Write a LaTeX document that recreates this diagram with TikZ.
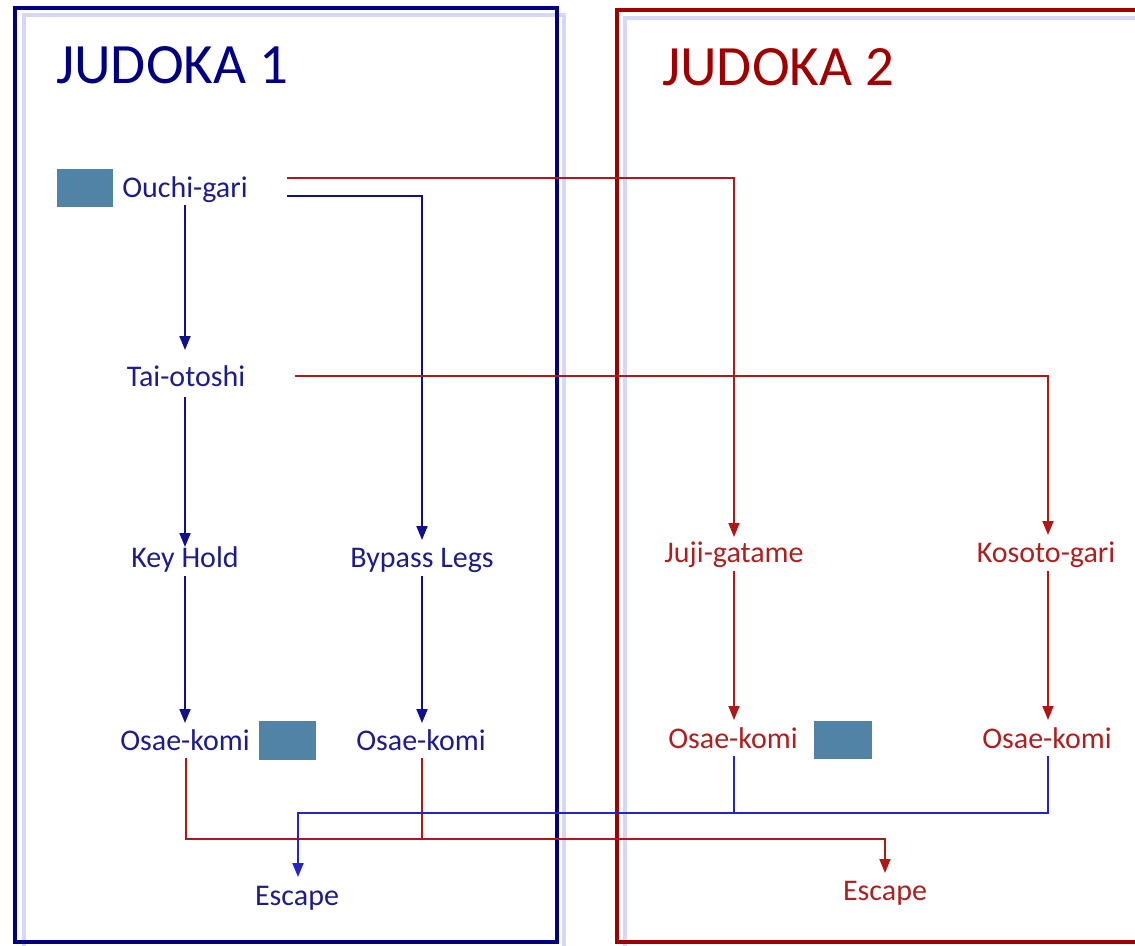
\documentclass[tikz,border=0pt]{standalone}
\usepackage{fontspec}
\setmainfont{Carlito}
\usetikzlibrary{arrows.meta,calc}
\definecolor{navyT}{HTML}{1C1C8C}
\definecolor{navyL}{HTML}{10108A}
\definecolor{navyB}{HTML}{000080}
\definecolor{brightB}{HTML}{2424C8}
\definecolor{redT}{HTML}{AE1F1F}
\definecolor{redL}{HTML}{B01818}
\definecolor{redB}{HTML}{A00000}
\definecolor{lav}{HTML}{D6D6F6}
\definecolor{sqc}{HTML}{5183A6}
\tikzset{
  lbl/.style={anchor=base,inner sep=0pt,font=\fontsize{30}{36}\selectfont},
  bl/.style={lbl,text=navyT},
  rl/.style={lbl,text=redT},
  title/.style={anchor=base west,inner sep=0pt,font=\fontsize{57}{62}\selectfont},
  sqbox/.style={fill=sqc,draw=none,inner sep=0pt},
  arr/.style={-{Triangle[length=14pt,width=11pt]}},
  bcon/.style={draw=navyL,line width=2pt},
  rcon/.style={draw=redL,line width=1.9pt},
  bcon2/.style={draw=brightB,line width=1.9pt},
}
\begin{document}
\begin{tikzpicture}[x=1pt,y=-1pt]
\useasboundingbox (0,0) rectangle (1135,945);
\begin{scope}
\clip (0,0) rectangle (1135,945);
% frames
\draw[lav,line width=3.5pt] (24,15) rectangle (564,960);
\draw[navyB,line width=3.5pt] (15,8) rectangle (557,942);
\draw[lav,line width=3.5pt] (625,18) rectangle (1160,960);
\draw[redB,line width=3.5pt] (617,10) rectangle (1150,942);
\end{scope}
% titles
\node[title,text=navyB] (j1) at (56,83) {JUDOKA 1};
\node[title,text=redB] (j2) at (662,85) {JUDOKA 2};
% squares
\node[sqbox,minimum width=56pt,minimum height=38pt] (sq1) at (85,188) {};
\node[sqbox,minimum width=57pt,minimum height=39pt] (sq2) at (287.5,740.5) {};
\node[sqbox,minimum width=58pt,minimum height=38pt] (sq3) at (842.5,740) {};
% labels
\node[bl] (ouchi) at (185,197) {Ouchi-gari};
\node[bl] (tai) at (186,386) {Tai-otoshi};
\node[bl] (key) at (185,567) {Key Hold};
\node[bl] (bypass) at (422,567) {Bypass Legs};
\node[bl] (osae1) at (185,750) {Osae-komi};
\node[bl] (osae2) at (421,750) {Osae-komi};
\node[bl] (esc1) at (297,905) {Escape};
\node[rl] (juji) at (734,562) {Juji-gatame};
\node[rl] (kosoto) at (1046,562) {Kosoto-gari};
\node[rl] (osae3) at (733,748) {Osae-komi};
\node[rl] (osae4) at (1047,748) {Osae-komi};
\node[rl] (esc2) at (885,900) {Escape};
% blue connectors
\draw[bcon,arr] ($(ouchi.base)+(0,8)$) -- ($(tai.base)+(-1,-36)$);
\draw[bcon,arr] ($(ouchi.base)+(102,-1)$) -| ($(bypass.base)+(0,-27)$);
\draw[bcon,arr] ($(tai.base)+(-1,11)$) -- ($(key.base)+(0,-20)$);
\draw[bcon,arr] ($(key.base)+(0,9)$) -- ($(osae1.base)+(0,-27)$);
\draw[bcon,arr] ($(bypass.base)+(0,9)$) -- ($(osae2.base)+(1,-27)$);
% red connectors
\draw[rcon,arr] ($(ouchi.base)+(102,-19)$) -| ($(juji.base)+(0,-25)$);
\draw[rcon,arr] ($(tai.base)+(109,-10)$) -| ($(kosoto.base)+(2,-27)$);
\draw[rcon,arr] ($(juji.base)+(0,9)$) -- ($(osae3.base)+(1,-28)$);
\draw[rcon,arr] ($(kosoto.base)+(2,9)$) -- ($(osae4.base)+(1,-28)$);
% escape connectors
\coordinate (rj) at ($(osae1.base)+(1,89)$);
\draw[rcon,arr] ($(osae1.base)+(1,8)$) -- (rj) -| ($(esc2.base)+(0,-27)$);
\draw[rcon] ($(osae2.base)+(1,8)$) |- (rj -| esc2.base);
\coordinate (bj) at ($(osae3.base)+(1,65)$);
\draw[bcon2,arr] ($(osae3.base)+(1,8)$) -- (bj) -| ($(esc1.base)+(1,-28)$);
\draw[bcon2] ($(osae4.base)+(1,8)$) |- (bj);
\end{tikzpicture}
\end{document}
